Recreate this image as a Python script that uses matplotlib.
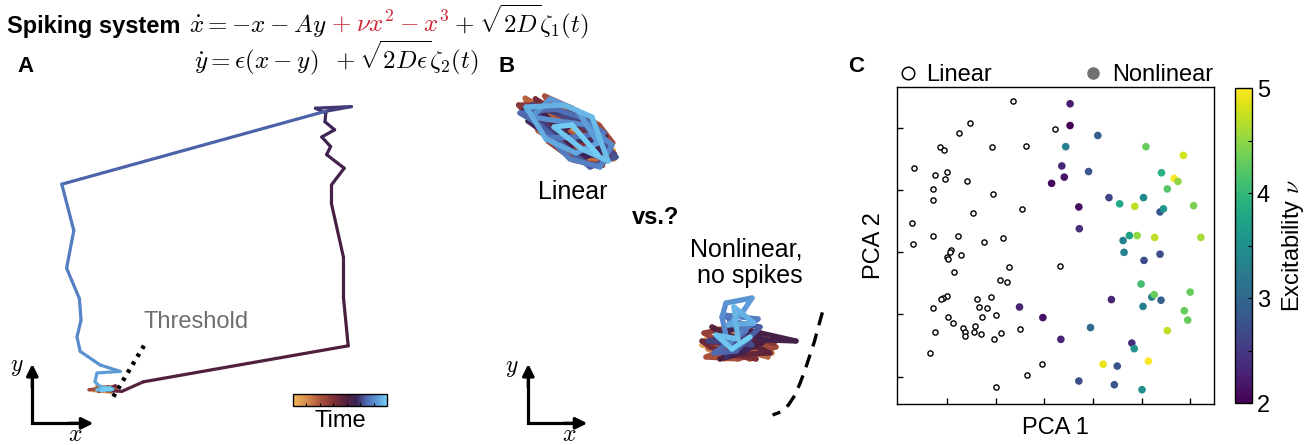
import numpy as np
import matplotlib.pyplot as plt
from matplotlib.collections import LineCollection
from matplotlib.colors import LinearSegmentedColormap, Normalize
from matplotlib.cm import ScalarMappable
from matplotlib.lines import Line2D

plt.rcParams['font.family'] = ['Liberation Sans', 'DejaVu Sans']
plt.rcParams['mathtext.fontset'] = 'cm'

# --- A: one spike of the excitable system (state units) ---
rest_pre_x = [-0.05, 0.12, -0.15, 0.08, -0.10, 0.15, -0.20, 0.05, -0.08, 0.13, 0.02]
rest_pre_y = [0.00, 0.03, -0.02, -0.04, 0.04, 0.00, -0.01, 0.03, -0.03, 0.04, -0.02]
spike_x = [0.21, 0.48, 3.04, 2.98, 2.98, 2.83, 2.83, 2.99, 2.77, 2.82, 2.71, 2.87, 2.75, 2.76,
           2.63, 3.08, 2.75, -0.54, -0.39, -0.48, -0.32, -0.30, -0.35, -0.31, -0.06, 0.19,
           -0.10, -0.125]
spike_y = [-0.03, 0.09, 0.54, 1.15, 1.65, 2.32, 2.55, 2.76, 2.93, 3.03, 3.15, 3.24, 3.34, 3.45,
           3.51, 3.53, 3.47, 2.56, 1.98, 1.51, 1.13, 0.86, 0.65, 0.47, 0.30, 0.22, 0.20, 0.09]
spike_t = [0.54, 0.56, 0.58, 0.59, 0.60, 0.61, 0.62, 0.63, 0.64, 0.65, 0.66, 0.67, 0.68, 0.69,
           0.70, 0.71, 0.73, 0.81, 0.82, 0.83, 0.84, 0.85, 0.86, 0.87, 0.88, 0.89, 0.90, 0.91]
rest_post_x = [-0.06, 0.10, -0.10, 0.06, -0.05, 0.08, -0.02]
rest_post_y = [0.03, 0.00, -0.01, 0.02, -0.02, -0.01, 0.01]
threshold_x = [0.104, 0.4875]
threshold_y = [-0.096, 0.541]

# --- B: noisy trajectories of the linear and the non-spiking nonlinear system ---
lin_x = [2.30, 3.88, 4.96, 3.67, 5.40, 6.67, 5.70, 4.25, 2.81, 3.18, 4.15, 5.63, 5.11, 3.56,
         2.22, 3.49, 4.88, 6.09, 6.71, 5.02, 3.92, 2.84, 4.44, 5.64, 5.98, 4.42, 2.91, 2.26,
         3.36, 4.45, 5.71, 5.34, 3.87, 3.23, 4.60, 5.96, 6.64, 4.99, 3.41, 4.71, 6.13, 5.78,
         4.48, 2.72, 1.93, 3.63, 5.03, 6.06, 4.64, 3.49, 2.77, 4.03, 5.33, 6.72, 5.28, 4.05,
         2.75, 3.11, 4.84, 6.29, 5.05, 3.42, 2.18, 3.71, 4.67, 5.99, 5.59, 4.34, 3.00, 4.04,
         4.9, 3.3, 2.4, 3.9, 5.3, 6.5, 5.0, 3.6, 2.6, 4.1, 5.8, 6.8, 5.5, 4.4, 3.0, 2.0, 3.8,
         5.2, 6.2, 4.7, 3.4, 4.5, 6.0, 6.6, 5.4, 3.9, 2.6, 3.5, 4.9, 5.9, 4.8, 3.3, 2.3, 4.2,
         5.6, 6.4, 5.1, 3.7, 4.6, 5.9]
lin_y = [17.18, 16.72, 15.62, 15.43, 14.76, 14.71, 16.00, 16.91, 17.17, 15.95, 14.66, 14.24,
         15.42, 16.38, 16.58, 17.19, 16.18, 15.29, 14.31, 14.32, 15.42, 16.51, 16.80, 15.66,
         14.19, 14.89, 15.70, 17.34, 16.74, 15.64, 14.85, 16.06, 16.47, 17.45, 16.84, 15.99,
         15.11, 14.97, 15.18, 14.23, 13.98, 15.20, 16.15, 16.06, 17.00, 16.98, 15.98, 14.78,
         15.04, 16.04, 17.31, 16.52, 15.57, 14.56, 14.56, 15.86, 16.81, 15.60, 15.18, 15.43,
         16.47, 16.84, 16.73, 16.18, 14.64, 14.43, 15.80, 16.61, 16.81, 15.61,
         16.3, 16.9, 16.2, 15.1, 14.4, 14.9, 15.3, 15.6, 17.0, 16.5, 15.6, 14.4, 13.9, 14.8,
         16.0, 16.6, 16.8, 16.3, 15.6, 15.4, 15.4, 14.3, 13.9, 15.0, 16.0, 16.2, 16.4, 17.3,
         16.7, 15.1, 14.6, 15.3, 16.9, 17.0, 16.4, 14.2, 14.8, 15.9, 16.0, 14.5]
nl_x = [11.3, 13.2, 11.9, 14.1, 12.6, 11.1, 13.4, 12.2, 14.3, 12.0, 13.6, 11.6, 13.0, 14.6,
        11.4, 13.9, 12.3, 14.4, 11.7, 13.5, 12.0, 14.0, 11.3, 12.9, 14.8, 12.5,
        12.4, 11.2, 13.1, 14.0, 14.7, 13.3, 12.1, 13.8, 12.7, 11.5,
        11.1, 13.7, 12.2, 14.5, 11.6, 13.2, 12.0, 14.1,
        13.0, 13.6, 15.8, 14.3, 12.6, 11.8, 13.4, 12.3,
        12.9, 11.4, 13.6, 12.5, 14.0, 12.8, 11.7, 13.3, 12.2, 13.9, 13.0, 12.4,
        12.1, 12.3, 13.6, 13.1, 12.4, 13.7, 12.7, 12.9, 11.8, 12.6, 13.5]
nl_y = [5.3, 5.0, 4.6, 4.7, 5.5, 5.0, 4.4, 4.3, 5.2, 5.8, 5.6, 4.5, 4.7, 4.6,
        4.8, 5.0, 5.3, 4.4, 5.1, 4.3, 4.9, 5.6, 4.4, 4.3, 4.9, 5.2,
        4.9, 5.6, 6.0, 5.4, 5.1, 5.4, 5.1, 4.3, 4.5, 4.9,
        5.2, 4.9, 4.5, 4.6, 5.9, 4.6, 4.3, 5.1,
        5.2, 5.7, 5.2, 5.25, 5.8, 5.4, 4.8, 4.4,
        5.4, 5.2, 5.0, 6.2, 5.9, 4.7, 4.6, 5.7, 6.5, 6.3, 5.6, 5.0,
        6.4, 7.1, 7.35, 6.6, 6.0, 6.1, 6.9, 5.3, 5.5, 4.8, 5.4]
nullcline_x = [17.12, 16.92, 16.72, 16.5, 16.25, 16.0, 15.75, 15.42, 15.08, 14.63]
nullcline_y = [6.63, 5.92, 5.17, 4.5, 3.75, 3.08, 2.5, 2.0, 1.67, 1.5]

# --- C: PCA embedding of simulated systems ---
linear_pc1 = [2.36, 1.48, 1.25, 3.22, 0.86, 0.94, 1.92, 2.62, 0.32, 0.99, 0.76, 0.95, 1.41, 0.71,
              1.95, 0.71, 2.55, 1.54, 0.27, 0.71, 1.23, 0.29, 1.75, 2.14, 1.08, 1.07, 1.00, 1.01,
              1.28, 1.14, 2.27, 3.32, 2.08, 2.23, 1.00, 0.91, 0.88, 1.62, 1.90, 0.72, 1.66, 1.83,
              1.01, 1.71, 2.01, 1.12, 1.32, 1.58, 0.75, 1.36, 1.36, 1.55, 1.70, 2.11, 1.97, 2.49,
              0.64, 2.95, 2.64, 2.01]
linear_pc2 = [5.43, 5.08, 4.92, 4.98, 4.70, 4.65, 4.70, 4.71, 4.35, 4.30, 4.24, 4.18, 4.15, 4.02,
              3.94, 3.84, 3.70, 3.64, 3.48, 3.26, 3.27, 3.14, 3.17, 3.23, 3.04, 3.00, 2.93, 2.90,
              2.95, 2.68, 2.77, 2.78, 2.55, 2.52, 2.30, 2.26, 2.25, 2.25, 2.28, 2.10, 2.12, 2.10,
              1.96, 1.96, 1.99, 1.86, 1.79, 1.81, 1.72, 1.72, 1.65, 1.72, 1.68, 1.71, 1.60, 1.76,
              1.38, 1.20, 1.02, 0.83]
nonlin_pc1 = [3.53, 3.53, 4.10, 3.44, 5.09, 5.86, 3.36, 3.41, 3.15, 3.91, 5.41, 5.67, 5.75, 5.53,
              4.33, 4.55, 4.86, 5.04, 5.38, 5.45, 6.07, 3.71, 3.72, 4.75, 4.91, 4.62, 5.27, 6.22,
              4.64, 5.05, 5.38, 4.99, 4.38, 5.21, 5.26, 5.40, 6.00, 5.03, 2.49, 2.97, 5.88, 5.95,
              3.95, 5.53, 3.34, 4.80, 4.85, 4.21, 4.50, 5.14, 3.71, 4.44, 5.01]
nonlin_pc2 = [5.39, 5.04, 4.88, 4.70, 4.70, 4.56, 4.39, 4.21, 4.11, 4.30, 4.28, 4.19, 4.14, 4.02,
              3.88, 3.78, 3.74, 3.88, 3.65, 3.70, 3.75, 3.73, 3.38, 3.27, 3.27, 3.19, 3.24, 3.24,
              3.00, 2.87, 2.97, 2.49, 2.24, 2.28, 2.32, 2.23, 2.36, 2.13, 2.12, 1.95, 2.06, 1.91,
              1.79, 1.74, 1.60, 1.54, 1.45, 1.20, 1.17, 1.25, 0.93, 0.87, 0.79]
nonlin_nu = [2.25, 2.0, 2.9, 3.3, 4.3, 4.8, 2.3, 2.15, 2.05, 2.8, 3.9, 5.0, 4.5, 4.2, 2.6, 3.8,
             4.7, 3.4, 2.8, 3.6, 4.4, 2.1, 2.4, 3.7, 4.5, 3.3, 4.7, 4.6, 3.3, 2.7, 2.7, 4.1, 2.3,
             3.3, 4.3, 2.9, 4.3, 3.3, 2.3, 2.1, 4.3, 4.3, 3.0, 4.7, 2.3, 2.4, 3.5, 4.9, 2.8, 5.0,
             2.7, 2.8, 3.5]

W, H = 1312, 445
fig = plt.figure(figsize=(W / 100, H / 100), dpi=100)


def px_axes(x0, y0, x1, y1):
    return fig.add_axes([x0 / W, 1 - y1 / H, (x1 - x0) / W, (y1 - y0) / H])


time_cmap = LinearSegmentedColormap.from_list('time', [
    (0.00, '#f2b65a'), (0.15, '#d58a4c'), (0.30, '#a8503a'), (0.45, '#7a2e38'),
    (0.58, '#4c1f3e'), (0.68, '#3c2458'), (0.78, '#4e68b0'), (0.90, '#5d9ad8'),
    (1.00, '#74d0f4')])


def colored_path(ax, x, y, t, lw):
    pts = np.column_stack([x, y])
    segs = np.stack([pts[:-1], pts[1:]], axis=1)
    t = np.asarray(t)
    tm = 0.5 * (t[:-1] + t[1:])
    lc = LineCollection(segs, colors=time_cmap(tm), linewidths=lw,
                        capstyle='round', joinstyle='round')
    ax.add_collection(lc)


def axis_icon(ax, x0, y0, dx, dy, xl, yl):
    ax.plot([x0, x0, x0 + 0.8 * dx], [y0 + 0.8 * dy, y0, y0], color='k', lw=2.3,
            solid_joinstyle='miter', solid_capstyle='butt')
    arrow = dict(arrowstyle='-|>', color='k', lw=2.3, shrinkA=0, shrinkB=0, mutation_scale=17)
    ax.annotate('', xy=(x0, y0 + dy), xytext=(x0, y0 + 0.6 * dy), arrowprops=arrow)
    ax.annotate('', xy=(x0 + dx, y0), xytext=(x0 + 0.6 * dx, y0), arrowprops=arrow)
    ax.text(*xl, '$x$', fontsize=17, ha='center', va='center')
    ax.text(*yl, '$y$', fontsize=17, ha='center', va='center')


# ---------------- header ----------------
fig.text(7 / W, 1 - 33 / H, 'Spiking system', fontsize=17, fontweight='bold', va='baseline')
eq_parts = [(r'$\dot{x} = -x - Ay$', 'k'), (r'$+\;\nu x^2 - x^3$', '#cc2233'),
            (r'$+\;\sqrt{2D}\zeta_1(t)$', 'k')]
fig.canvas.draw()
renderer = fig.canvas.get_renderer()
xcur = 189
for s, c in eq_parts:
    t = fig.text(xcur / W, 1 - 32 / H, s, fontsize=18, color=c, va='baseline')
    xcur = t.get_window_extent(renderer).x1 + 5
fig.text(194 / W, 1 - 68 / H, r'$\dot{y} = \epsilon(x - y)\;\;+\sqrt{2D\epsilon}\zeta_2(t)$',
         fontsize=18, va='baseline')

for lab, xp in [('A', 17), ('B', 499), ('C', 848)]:
    fig.text(xp / W, 1 - 66 / H, lab, fontsize=16, fontweight='bold', va='center')

# ---------------- A ----------------
ax_a = px_axes(0, 80, 450, 445)
ax_a.set_xlim(-1.3125, 4.3125)
ax_a.set_ylim(-0.7, 3.8625)
ax_a.axis('off')
traj_x = rest_pre_x + spike_x + rest_post_x
traj_y = rest_pre_y + spike_y + rest_post_y
traj_t = list(np.linspace(0, 0.5, len(rest_pre_x))) + spike_t + \
    list(np.linspace(0.93, 1.0, len(rest_post_x)))
colored_path(ax_a, traj_x, traj_y, traj_t, 2.3)
ax_a.plot(threshold_x, threshold_y, color='k', lw=3.2, linestyle=(0, (0.8, 1.3)))
ax_a.text(1.1375, 0.84, 'Threshold', fontsize=17, color='#6e6e6e', ha='center', va='center')
axis_icon(ax_a, -0.909, -0.429, 0.763, 0.742, (-0.375, -0.575), (-1.1, 0.27))

cax_t = px_axes(293, 394, 387, 406)
cb_t = fig.colorbar(ScalarMappable(Normalize(0, 1), time_cmap), cax=cax_t, orientation='horizontal')
cb_t.set_ticks(np.arange(1, 7) / 7)
cb_t.ax.tick_params(direction='in', length=2.5, width=0.8, labelbottom=False)
cb_t.outline.set_linewidth(1.0)
cb_t.set_label('Time', fontsize=17, labelpad=3)

# ---------------- B ----------------
ax_b = px_axes(480, 60, 850, 445)
ax_b.set_xlim(0, 18.5)
ax_b.set_ylim(0, 19.25)
ax_b.axis('off')
colored_path(ax_b, lin_x, lin_y, np.linspace(0, 1, len(lin_x)), 3.8)
colored_path(ax_b, nl_x, nl_y, np.linspace(0, 1, len(nl_x)), 3.8)
ax_b.plot(nullcline_x, nullcline_y, color='k', lw=2.4, linestyle=(0, (4, 2.6)))
ax_b.text(4.65, 12.67, 'Linear', fontsize=18, ha='center', va='center')
ax_b.text(8.8, 11.4, 'vs.?', fontsize=17, fontweight='bold', ha='center', va='center')
ax_b.text(13.3, 9.1, 'Nonlinear,\nno spikes', fontsize=18, ha='center', va='center',
          multialignment='right', linespacing=1.15)
axis_icon(ax_b, 2.415, 1.085, 2.95, 2.965, (4.45, 0.5), (1.6, 3.85))

# ---------------- C ----------------
ax_c = px_axes(897, 87, 1214, 404)
ax_c.scatter(linear_pc1, linear_pc2, s=14, facecolors='white', edgecolors='k', linewidths=1.0,
             zorder=3)
sc = ax_c.scatter(nonlin_pc1, nonlin_pc2, s=30, c=nonlin_nu, cmap='viridis', vmin=2, vmax=5,
                  linewidths=0, zorder=3)
ax_c.set_xlim(-0.03, 6.49)
ax_c.set_ylim(0.56, 5.66)
ax_c.set_xticks(range(1, 7))
ax_c.set_yticks(range(1, 6))
ax_c.tick_params(direction='in', length=4, width=1, labelbottom=False, labelleft=False)
for sp in ax_c.spines.values():
    sp.set_linewidth(1.0)
ax_c.set_xlabel('PCA 1', fontsize=17, labelpad=9)
ax_c.set_ylabel('PCA 2', fontsize=17, labelpad=9)

leg1 = ax_c.legend([Line2D([], [], marker='o', ls='', mfc='white', mec='k', ms=9, mew=1.1)],
                   ['Linear'], loc='lower left', bbox_to_anchor=(0.0, 1.0), frameon=False,
                   fontsize=17, borderaxespad=0, borderpad=0.05, handlelength=0.8,
                   handletextpad=0.4)
ax_c.add_artist(leg1)
ax_c.legend([Line2D([], [], marker='o', ls='', mfc='#707070', mec='#707070', ms=8)],
            ['Nonlinear'], loc='lower right', bbox_to_anchor=(1.0, 1.0), frameon=False,
            fontsize=17, borderaxespad=0, borderpad=0.05, handlelength=0.8, handletextpad=0.4)

cax_c = px_axes(1235, 88, 1252, 403)
cb_c = fig.colorbar(sc, cax=cax_c)
cb_c.set_ticks([2, 3, 4, 5])
cb_c.ax.set_yticks([2.5, 3.5, 4.5], minor=True)
cb_c.ax.tick_params(which='both', direction='in', length=3, width=0.8, labelsize=17)
cb_c.outline.set_linewidth(1.0)
cb_c.set_label(r'Excitability $\nu$', fontsize=17, labelpad=7)

fig.savefig('out.png', dpi=100)
